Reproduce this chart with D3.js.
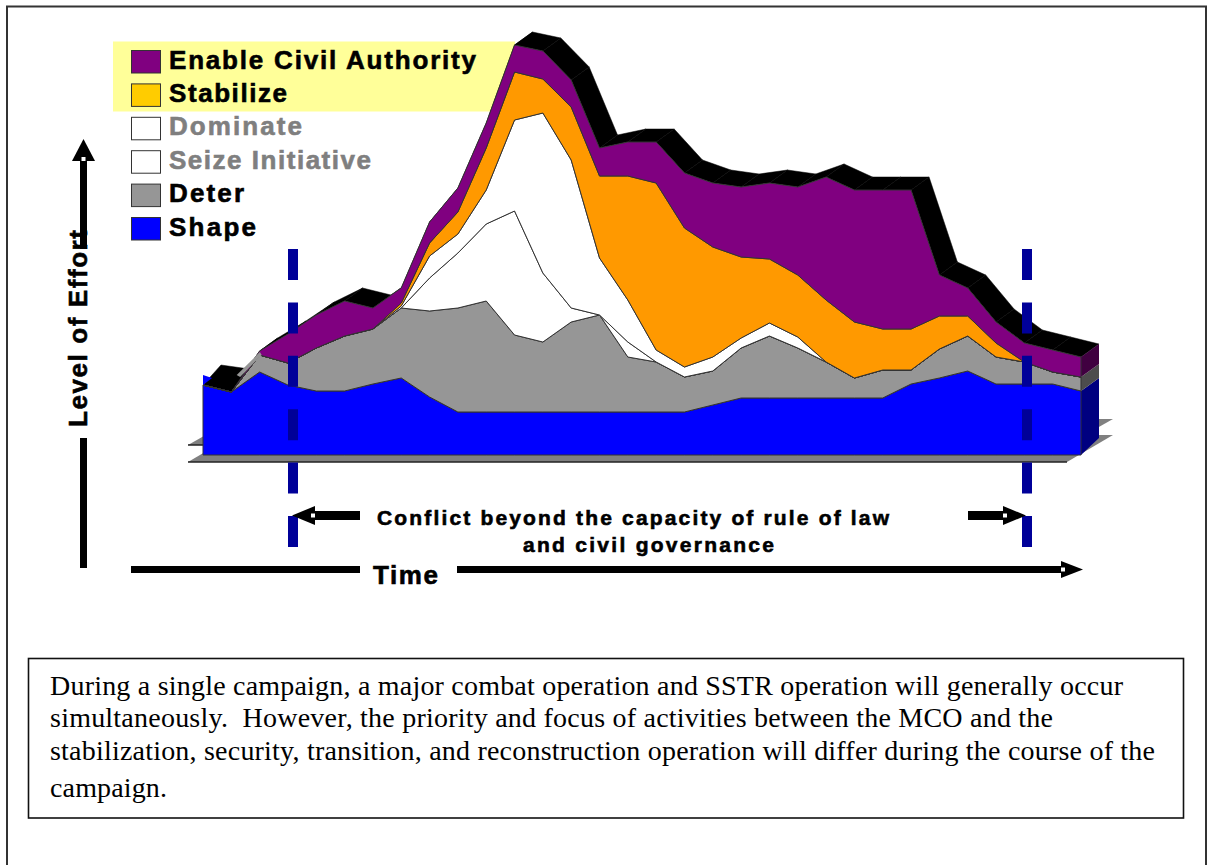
<!DOCTYPE html>
<html>
<head>
<meta charset="utf-8">
<script src="https://cdnjs.cloudflare.com/ajax/libs/d3/7.8.5/d3.min.js"></script>
<style>
    html, body { margin: 0; padding: 0; background: #fff; }
    svg { display: block; }
    text { font-family: "Liberation Sans", Arial, sans-serif; font-weight: bold; }
    .para { font-family: "Liberation Serif", "Times New Roman", serif; font-weight: normal; font-size: 28px; fill: #000; }
</style>
</head>
<body>
<div id="chart"></div>
<script>
// level of effort per time step (bottom layer first)
const shape     = [70,63,83,70,64,64,71,77,58,43,43,43,43,43,43,43,43,43,50,57,57,57,57,57,57,71,77,84,71,71,71,64];
const deter     = [0,0,17,22,43,55,55,70,86,104,111,77,70,90,97,55,50,35,34,50,62,50,36,20,28,14,29,35,27,22,12,14];
const seize     = [0,0,0,0,0,0,0,0,33,55,77,124,69,14,0,15,0,0,0,0,0,0,0,0,0,0,0,0,0,0,0,0];
const dominate  = [0,0,0,0,0,0,0,2,22,19,34,91,160,148,57,42,12,10,14,10,13,11,0,0,0,0,0,0,0,0,0,0];
const stabilize = [0,0,0,0,0,0,0,3,13,22,42,48,34,53,82,124,167,139,110,81,64,62,62,56,41,41,33,20,14,0,0,0];
const enable    = [0,0,4,29,33,35,21,15,21,24,25,27,28,27,28,34,41,55,64,70,76,88,123,132,139,139,41,28,21,19,22,20];
// the rear edge sits a bit higher than the stack at the far left
const rearExtra = [7,10,0,0,0,0,0,0,0,0,0,0,0,0,0,0,0,0,0,0,0,0,0,0,0,0,0,0,0,0,0,0];

const seriesKeys = ["shape", "deter", "seize", "dominate", "stabilize", "enable"];
const seriesData = { shape, deter, seize, dominate, stabilize, enable };
const seriesFill = { shape: "#0000ff", deter: "#969696", seize: "#ffffff", dominate: "#ffffff", stabilize: "#ff9900", enable: "#800080" };
const sideFill   = { shape: "#000080", deter: "#4d4d4d", enable: "#400040" };

const legendNames  = ["Enable Civil Authority", "Stabilize", "Dominate", "Seize Initiative", "Deter", "Shape"];
const legendFill   = ["#800080", "#ffcc00", "#ffffff", "#ffffff", "#969696", "#0000ff"];
const legendText   = ["#000", "#000", "#7f7f7f", "#7f7f7f", "#000", "#000"];
const legendWidths = [307, 118, 133, 202, 75, 87];

const paragraph = [
    "During a single campaign, a major combat operation and SSTR operation will generally occur",
    "simultaneously.  However, the priority and focus of activities between the MCO and the",
    "stabilization, security, transition, and reconstruction operation will differ during the course of the",
    "campaign."
];
const paragraphWidths = [1073, 1003, 1105, 117];
const paragraphBase = [695, 727, 760, 797];

// small bits of the 3d corner at the left
const notchTime = [0, 0.32, 0],  notchLevel = [80, 77, 70];
const stripTime = [1.19, 2.01, 2.07, 1.31],  stripLevel = [80, 103, 100, 78];

const chartW = 1207, chartH = 865;
const depthX = 18, depthY = 13;

const svg = d3.select("#chart").append("svg").attr("width", chartW).attr("height", chartH);

const x = d3.scaleLinear().domain([0, shape.length - 1]).range([203, 1081]);
const y = d3.scaleLinear().domain([0, 450]).range([455, 5]);

// page frame
svg.append("path").attr("d", "M7,865V6.5H1206V865").attr("fill", "none").attr("stroke", "#333").attr("stroke-width", 2);

// yellow band behind the first two legend rows
svg.append("rect").attr("x", 113).attr("y", 41.5).attr("width", 402).attr("height", 70).attr("fill", "#ffff99");

// the two floors
[{ front: 445, back: 419 }, { front: 462, back: 435 }].forEach(f => {
    svg.append("path")
        .attr("d", `M188,${f.front}H1067L1113,${f.back}H234Z`)
        .attr("fill", "#808080");
    svg.append("path")
        .attr("d", `M188,${f.front}H1067`)
        .attr("stroke", "#222").attr("stroke-width", 1.5);
});

const rows = shape.map((d, i) => {
    const row = { i: i };
    seriesKeys.forEach(k => row[k] = seriesData[k][i]);
    return row;
});
const stacked = d3.stack().keys(seriesKeys)(rows);
const topLayer = stacked[stacked.length - 1];

// black top surface of the 3d area, one quad per time step so the slopes keep their edges
const surface = d3.area()
    .x0(d => x(d.data.i))
    .y0(d => y(d[1]))
    .x1(d => x(d.data.i) + depthX)
    .y1(d => y(d[1] + rearExtra[d.data.i]) - depthY);
d3.pairs(topLayer).forEach(pair => {
    svg.append("path").attr("d", surface(pair)).attr("fill", "#000").attr("stroke", "#000").attr("stroke-width", 0.5);
});

// side faces on the right
const last = shape.length - 1;
stacked.filter(s => sideFill[s.key]).forEach(s => {
    let lo = s[last][0], hi = s[last][1];
    let baseDepth = lo == 0 ? 17 : depthY;
    svg.append("path")
        .attr("d", d3.line()([
            [x(last), y(lo)], [x(last), y(hi)],
            [x(last) + depthX, y(hi) - depthY], [x(last) + depthX, y(lo) - baseDepth]
        ]) + "Z")
        .attr("fill", sideFill[s.key]);
});

// front layers
const layer = d3.area()
    .x((d, i) => x(i))
    .y0(d => y(d[0]))
    .y1(d => y(d[1]));
svg.selectAll(".layer").data(stacked).enter().append("path")
    .attr("class", "layer")
    .attr("d", layer)
    .attr("fill", d => seriesFill[d.key])
    .attr("stroke", "#333")
    .attr("stroke-width", 1);

// blue notch and grey strip at the far left
const corner = d3.line().x(d => x(d[0])).y(d => y(d[1]));
svg.append("path").attr("d", corner(d3.zip(notchTime, notchLevel)) + "Z").attr("fill", "#0000ff");
svg.append("path").attr("d", corner(d3.zip(stripTime, stripLevel)) + "Z").attr("fill", "#969696");

// dashed campaign limits
[293, 1027].forEach(px => {
    svg.append("line")
        .attr("x1", px).attr("x2", px).attr("y1", 249).attr("y2", 547)
        .attr("stroke", "#000099").attr("stroke-width", 10)
        .attr("stroke-dasharray", "31 22.4");
});

// arrows
function arrow(x1, y1, x2, y2, w, headLen, headW) {
    let a = Math.atan2(y2 - y1, x2 - x1);
    let ux = Math.cos(a), uy = Math.sin(a);
    let bx = x2 - ux * headLen, by = y2 - uy * headLen;
    svg.append("line").attr("x1", x1).attr("y1", y1).attr("x2", bx).attr("y2", by)
        .attr("stroke", "#000").attr("stroke-width", w);
    svg.append("path")
        .attr("d", d3.line()([
            [x2, y2],
            [bx - uy * headW / 2, by + ux * headW / 2],
            [bx + uy * headW / 2, by - ux * headW / 2]
        ]) + "Z")
        .attr("fill", "#000");
    // the little white speck at the base of the head
    svg.append("rect").attr("x", bx + ux * 2 - 2).attr("y", by + uy * 2 - 2).attr("width", 4).attr("height", 4).attr("fill", "#fff");
}
function bar(x1, y1, x2, y2, w) {
    svg.append("line").attr("x1", x1).attr("y1", y1).attr("x2", x2).attr("y2", y2)
        .attr("stroke", "#000").attr("stroke-width", w);
}

arrow(83.5, 249, 83.5, 139, 7, 22, 23);
bar(83.5, 438, 83.5, 568, 7);
bar(131, 569.5, 360, 569.5, 7);
arrow(457, 569.5, 1083, 569.5, 7, 22, 17);
arrow(360, 515.5, 292, 515.5, 9, 23, 19);
arrow(968, 515.5, 1026, 515.5, 9, 23, 19);

// texts, with a hair of outline since the original glyphs are heavier
function label(str, px, py, size, len, color) {
    return svg.append("text")
        .attr("x", px).attr("y", py)
        .attr("font-size", size)
        .attr("fill", color || "#000")
        .attr("stroke", color || "#000")
        .attr("stroke-width", 0.6)
        .attr("textLength", len)
        .attr("lengthAdjust", "spacing")
        .text(str);
}
svg.append("text")
    .attr("transform", "translate(87,427) rotate(-90)")
    .attr("font-size", 26).attr("fill", "#000")
    .attr("stroke", "#000").attr("stroke-width", 0.6)
    .attr("textLength", 197).attr("lengthAdjust", "spacing")
    .text("Level of Effort");
label("Time", 373, 584, 26, 65);
label("Conflict beyond the capacity of rule of law", 377, 525, 21, 512);
label("and civil governance", 523, 552, 21, 251);

// legend
const legendY = d3.scalePoint().domain(legendNames).range([50, 217]);
legendNames.forEach((name, i) => {
    svg.append("rect")
        .attr("x", 131.5).attr("y", legendY(name) + 0.5)
        .attr("width", 29).attr("height", 22.5)
        .attr("fill", legendFill[i])
        .attr("stroke", "#333").attr("stroke-width", 1);
    label(name, 169, legendY(name) + 18.5, 26, legendWidths[i], legendText[i]);
});

// caption box
svg.append("rect").attr("x", 28.5).attr("y", 658.5).attr("width", 1155).attr("height", 159.5)
    .attr("fill", "#fff").attr("stroke", "#111").attr("stroke-width", 1.6);
paragraph.forEach((line, i) => {
    svg.append("text").attr("class", "para")
        .attr("xml:space", "preserve")
        .style("white-space", "pre")
        .attr("x", 50).attr("y", paragraphBase[i])
        .attr("textLength", paragraphWidths[i])
        .attr("lengthAdjust", "spacing")
        .text(line);
});
</script>
</body>
</html>
